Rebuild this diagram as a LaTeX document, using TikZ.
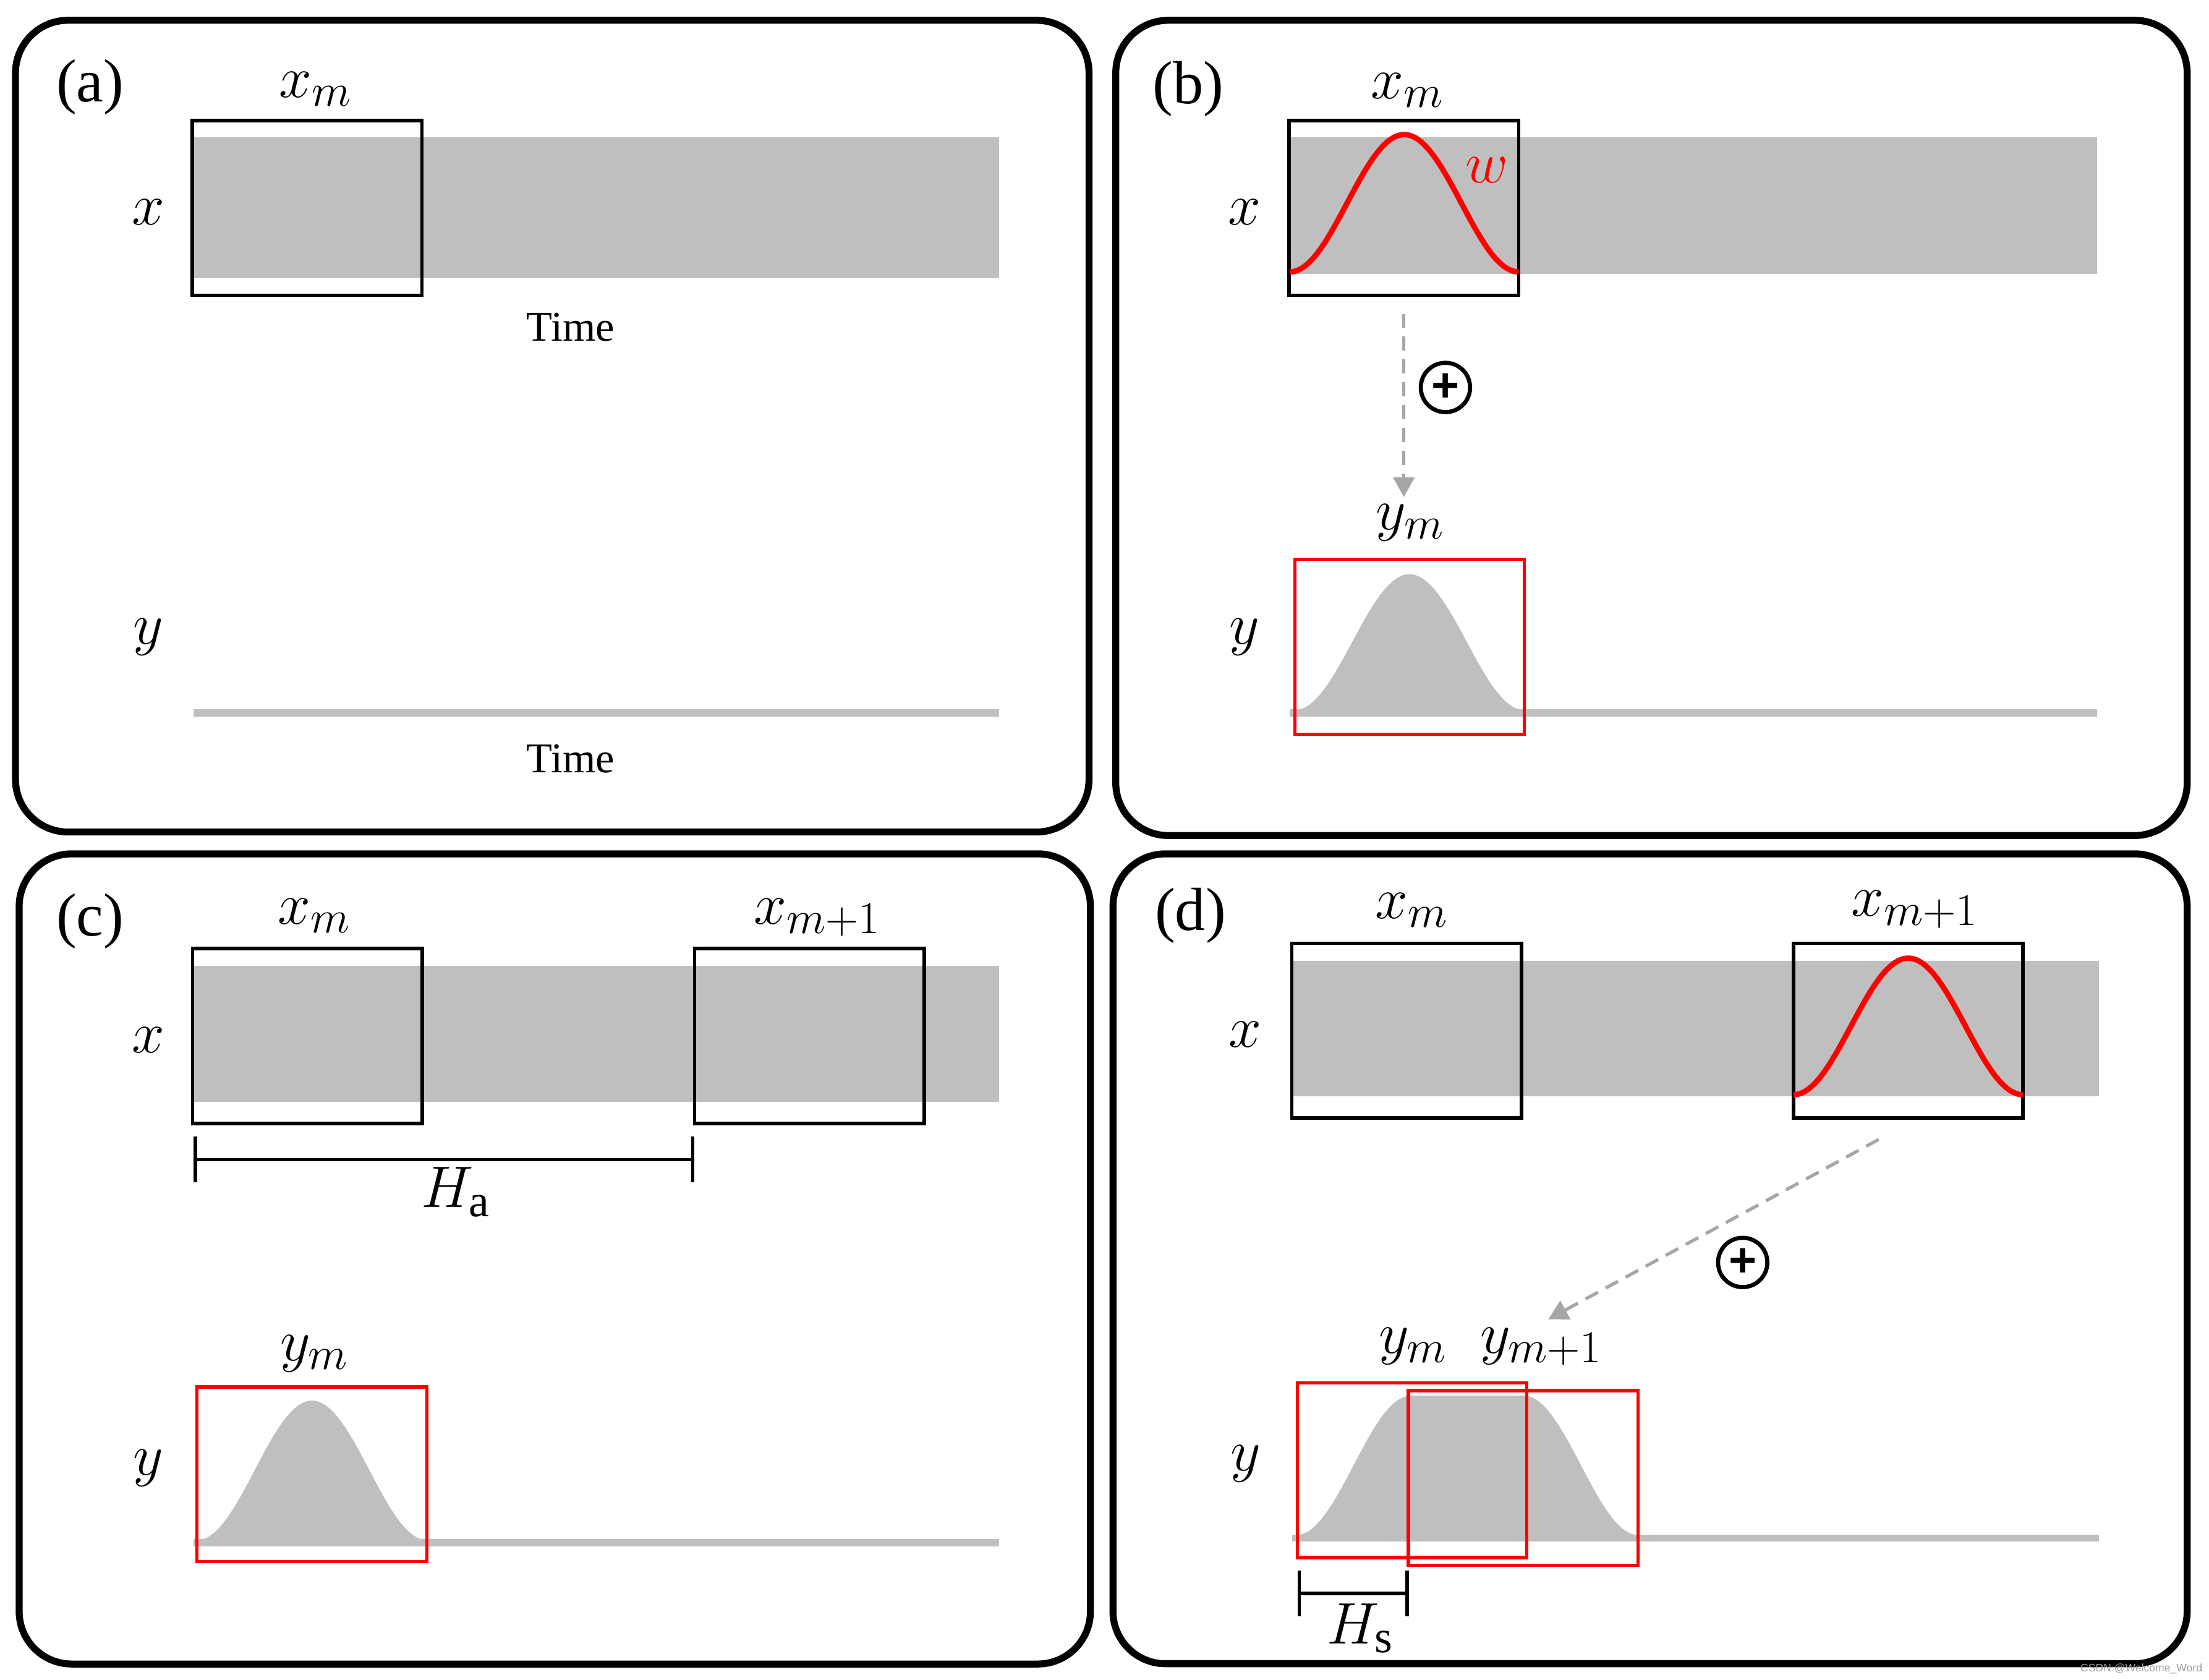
\documentclass[tikz,border=0pt]{standalone}
\usepackage{fix-cm}
\usepackage{fontspec}
\setmainfont{Liberation Serif}
\setsansfont{Liberation Sans}
\usetikzlibrary{arrows.meta, calc}
\DeclareMathSizes{27}{27}{21}{17}

\definecolor{SigGray}{HTML}{BFBFBF}
\definecolor{ArrowGray}{HTML}{A6A6A6}
\definecolor{WinRed}{HTML}{FF0000}

\newcommand{\pxu}{0.022787cm}

\tikzset{
    % Frame and label styles
    panel/.style={draw=black, line width=3.2pt, rounded corners=0.85cm},
    paneltag/.style={inner sep=0pt, font=\fontsize{28}{30}\selectfont},
    mlab/.style={inner sep=0pt, anchor=base, font=\fontsize{27}{30}\selectfont},
    timelab/.style={inner sep=0pt, font=\fontsize{19.5}{22}\selectfont},
    % Window boxes
    winbox/.style={
        rectangle,
        draw=black,
        line width=1.6pt,
        inner sep=0pt,
        minimum width=163*\pxu,
        minimum height=124*\pxu
    },
    outbox/.style={winbox, draw=WinRed, line width=1.5pt},
    % Signals
    wcurve/.style={draw=WinRed, line width=2.5pt, line join=round},
    % Arrows and marks
    addarrow/.style={
        draw=ArrowGray,
        line width=1.5pt,
        dash pattern=on 6.5pt off 4pt,
        -{Triangle[length=9pt, width=9.5pt]}
    },
    oplus/.style={
        circle,
        draw=black,
        line width=1.9pt,
        inner sep=0pt,
        minimum size=35*\pxu,
        font=\fontsize{22}{22}\sffamily\bfseries
    },
    span/.style={draw=black, line width=1.6pt, {Bar[width=21pt]}-{Bar[width=21pt]}}
}

\begin{document}
\begin{tikzpicture}[x=\pxu, y=-\pxu]
    \useasboundingbox (0,0) rectangle (1568,1192);

    % Panel (a)
    \draw[panel] (11,14.4) rectangle (773,590.5);
    \fill[SigGray] (137.5,97.6) rectangle (709.3,197.5);
    \fill[SigGray] (137.5,503.5) rectangle (709.3,508.5);
    \node[winbox] (xa) at (218,147.5) {};
    \node[paneltag] (tag-a) at (64,62) {(a)};
    \node[mlab] (xa-lab) at (224,69) {$x_m$};
    \node[mlab] (xa-sig) at (105.4,159.6) {$x$};
    \node[mlab] (ya-sig) at (105.4,457) {$y$};
    \node[timelab] (ta-1) at (405,232) {Time};
    \node[timelab] (ta-2) at (405,538.5) {Time};

    % Panel (b)
    \draw[panel] (792,14.4) rectangle (1552.5,593);
    \fill[SigGray] (915.5,97.4) rectangle (1488.5,194.6);
    \fill[SigGray] (915.5,503.5) rectangle (1488.5,508.5);
    \fill[SigGray] plot[domain=0:1, samples=60] ({919+163*\x},{504-96.5*0.5*(1-cos(360*\x))}) -- cycle;
    \node[winbox] (xb) at (996.5,147.5) {};
    \draw[wcurve] plot[domain=0:1, samples=60] ({915.5+162.5*\x},{193-97.5*0.5*(1-cos(360*\x))});
    \node[outbox] (yb) at (1000.5,459) {};
    \node[paneltag] (tag-b) at (843.5,63) {(b)};
    \node[mlab] (xb-lab) at (999,70) {$x_m$};
    \node[mlab, anchor=center, text=WinRed] (wb-lab) at (1055.5,120.5) {$w$};
    \node[mlab] (xb-sig) at (883.5,159.6) {$x$};
    \node[mlab] (yb-sig) at (883.5,457) {$y$};
    \node[mlab] (yb-lab) at (1001,376) {$y_m$};
    \node[oplus] (ob) at (1026,275) {+};
    \draw[addarrow] ($(xb.south)+(0,12)$) -- ($(xb.south |- yb-lab.north)+(0,-5)$);

    % Panel (c)
    \draw[panel] (13.6,606) rectangle (774,1181);
    \fill[SigGray] (137.5,685.4) rectangle (709.3,782.2);
    \fill[SigGray] (137.5,1092.5) rectangle (709.3,1097.5);
    \fill[SigGray] plot[domain=0:1, samples=60] ({140+163*\x},{1093-99*0.5*(1-cos(360*\x))}) -- cycle;
    \node[winbox] (xc1) at (218.2,735.3) {};
    \node[winbox] (xc2) at (574.5,735.3) {};
    \node[outbox] (yc) at (221.4,1046.3) {};
    \node[paneltag] (tag-c) at (64,654) {(c)};
    \node[mlab] (xc1-lab) at (223,655.7) {$x_m$};
    \node[mlab] (xc2-lab) at (580,655.7) {$x_{m+1}$};
    \node[mlab] (xc-sig) at (105.4,747) {$x$};
    \node[mlab] (yc-sig) at (105.4,1047) {$y$};
    \node[mlab] (yc-lab) at (223,965.6) {$y_m$};
    \coordinate (ha-l) at (137.5,823);
    \coordinate (ha-r) at (493,823);
    \draw[span] (ha-l) -- (ha-r);
    \node[mlab] (ha-lab) at (323.5,857) {$H_{\mathrm{a}}$};

    % Panel (d)
    \draw[panel] (790,606) rectangle (1552.5,1180.8);
    \fill[SigGray] (917,682) rectangle (1490,778);
    \fill[SigGray] (917,1089) rectangle (1490,1094);
    \fill[SigGray] plot[domain=0:0.5, samples=30] ({920+163*\x},{1089.5-99*0.5*(1-cos(360*\x))})
        -- plot[domain=0.5:1, samples=30] ({1000+163*\x},{1089.5-99*0.5*(1-cos(360*\x))}) -- cycle;
    \node[winbox] (xd1) at (998.5,731.5) {};
    \node[winbox] (xd2) at (1354.5,731.5) {};
    \draw[wcurve] plot[domain=0:1, samples=60] ({1273+163*\x},{777-97*0.5*(1-cos(360*\x))});
    \node[outbox] (yd1) at (1002.3,1043.5) {};
    \node[outbox] (yd2) at (1081.2,1049) {};
    \node[paneltag] (tag-d) at (845,650) {(d)};
    \node[mlab] (xd1-lab) at (1002,652) {$x_m$};
    \node[mlab] (xd2-lab) at (1359,650) {$x_{m+1}$};
    \node[mlab] (xd-sig) at (884,743) {$x$};
    \node[mlab] (yd-sig) at (884,1044) {$y$};
    \node[mlab] (yd1-lab) at (1003,960.6) {$y_m$};
    \node[mlab] (yd2-lab) at (1094,960.6) {$y_{m+1}$};
    \node[oplus] (od) at (1237,896) {+};
    \draw[addarrow] ($(xd2.south)+(-21,14)$) -- ($(yd2-lab.north)+(5,-6)$);
    \coordinate (hs-l) at (921,1131);
    \coordinate (hs-r) at (1000,1131);
    \draw[span] (hs-l) -- (hs-r);
    \node[mlab] (hs-lab) at (965.4,1166.5) {$H_{\mathrm{s}}$};

    % Watermark
    \node[inner sep=0pt, font=\fontsize{5}{6}\sffamily, text=black!38] (wm) at (1520,1184.5) {CSDN @Welcome\_Word};
\end{tikzpicture}
\end{document}
